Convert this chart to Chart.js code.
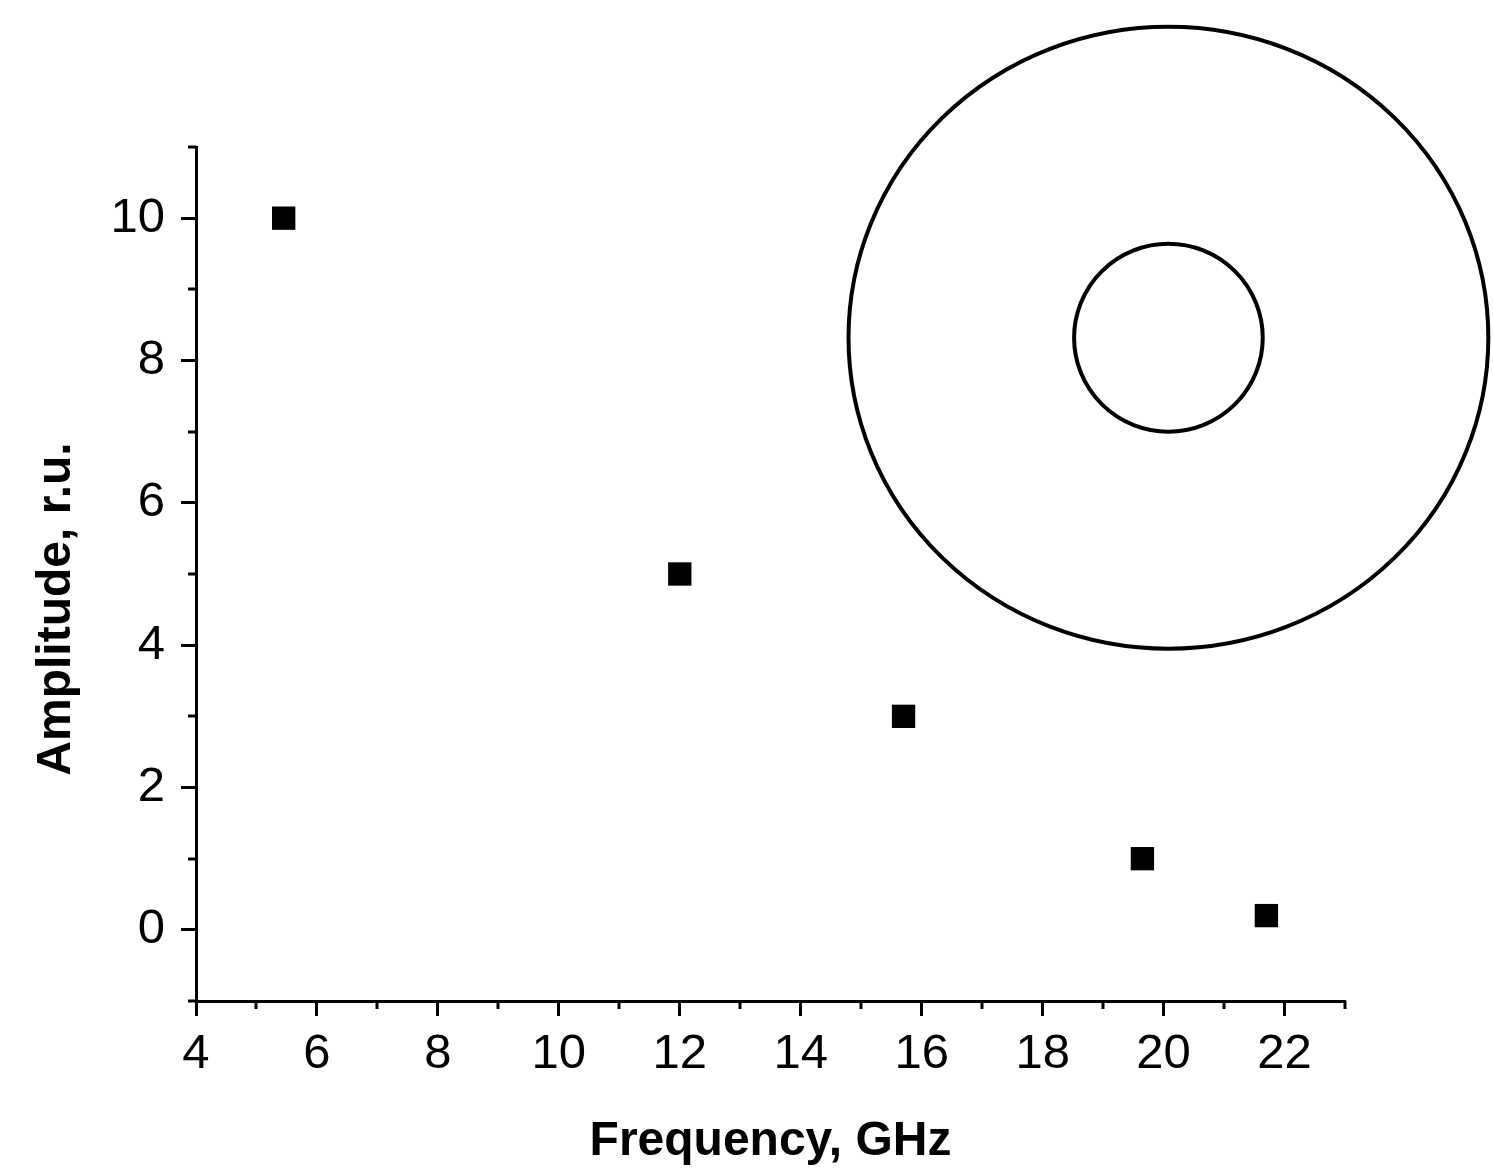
<!DOCTYPE html>
<html>
<head>
<meta charset="utf-8">
<script src="https://cdn.jsdelivr.net/npm/chart.js@4/dist/chart.umd.min.js"></script>
<style>
  html, body { margin: 0; padding: 0; background: #fff; }
  #wrap { width: 1493px; height: 1171px; }
</style>
</head>
<body>
<div id="wrap"><canvas id="chart"></canvas></div>
<script>
// ── Data ──────────────────────────────────────────────
const frequency = [5.45, 12.0, 15.7, 19.65, 21.7];   // GHz
const amplitude = [10.0, 5.0, 3.0, 1.0, 0.2];        // r.u.

const xMajor = [4, 6, 8, 10, 12, 14, 16, 18, 20, 22];
const xMinor = [5, 7, 9, 11, 13, 15, 17, 19, 21, 23];
const yMajor = [0, 2, 4, 6, 8, 10];
const yMinor = [-1, 1, 3, 5, 7, 9, 11];

const yTitle = 'Amplitude, r.u.';

// inset sketch: two rings, centre and radii in axis units
const ringCenter = [20.08, 8.32];
const ringRadiiX = [5.29, 1.56];
const ringRadiiY = [4.37, 1.32];

const FONT = "'Liberation Sans', Arial, Helvetica, sans-serif";

// ── Minor ticks, rings, y title ───────────────────────
const extras = {
    id: 'extras',
    afterDraw(chart) {
        const { ctx, scales: { x, y }, chartArea } = chart;
        ctx.save();
        ctx.strokeStyle = '#000';
        ctx.lineWidth = 3;
        ctx.lineCap = 'butt';
        ctx.beginPath();
        xMinor.forEach(v => {
            const px = Math.round(x.getPixelForValue(v));
            ctx.moveTo(px, chartArea.bottom);
            ctx.lineTo(px, chartArea.bottom + 8);
        });
        yMinor.forEach(v => {
            const py = Math.round(y.getPixelForValue(v));
            ctx.moveTo(chartArea.left, py);
            ctx.lineTo(chartArea.left - 8, py);
        });
        ctx.stroke();

        const cx = x.getPixelForValue(ringCenter[0]);
        const cy = y.getPixelForValue(ringCenter[1]);
        ctx.lineWidth = 4;
        ringRadiiX.forEach((rx, i) => {
            const rpx = Math.abs(x.getPixelForValue(ringCenter[0] + rx) - cx);
            const rpy = Math.abs(y.getPixelForValue(ringCenter[1] + ringRadiiY[i]) - cy);
            ctx.beginPath();
            ctx.ellipse(cx, cy, rpx, rpy, 0, 0, Math.PI * 2);
            ctx.stroke();
        });

        // y title sits a bit below the axis centre in the original
        ctx.translate(57, (chartArea.top + chartArea.bottom) / 2 + 35);
        ctx.rotate(-Math.PI / 2);
        ctx.font = `bold 48px ${FONT}`;
        ctx.fillStyle = '#000';
        ctx.textAlign = 'center';
        ctx.textBaseline = 'middle';
        ctx.fillText(yTitle, 0, 0);
        ctx.restore();
    }
};

Chart.defaults.font.family = FONT;
Chart.defaults.color = '#000';

new Chart(document.getElementById('chart'), {
    type: 'scatter',
    data: {
        datasets: [{
            data: frequency.map((f, i) => ({ x: f, y: amplitude[i] })),
            pointStyle: 'rect',
            pointRadius: 16.5,
            pointHoverRadius: 16.5,
            backgroundColor: '#000',
            borderColor: '#000',
            borderWidth: 0
        }]
    },
    options: {
        responsive: true,
        maintainAspectRatio: false,
        animation: false,
        layout: { padding: { top: 147, right: 148, left: 0, bottom: 0 } },
        plugins: {
            legend: { display: false },
            tooltip: { enabled: false }
        },
        scales: {
            x: {
                type: 'linear',
                min: 4,
                max: 23,
                afterBuildTicks: s => { s.ticks = xMajor.map(v => ({ value: v })); },
                afterFit: s => { s.height = 170; },
                border: { display: true, color: '#000', width: 3 },
                grid: {
                    drawOnChartArea: false,
                    drawTicks: true,
                    tickLength: 15,
                    tickWidth: 3,
                    tickColor: '#000'
                },
                ticks: {
                    font: { size: 49 },
                    padding: 9,
                    maxRotation: 0,
                    autoSkip: false
                },
                title: {
                    display: true,
                    text: 'Frequency, GHz',
                    font: { size: 48, weight: 'bold' },
                    padding: { top: 20, bottom: 0 }
                }
            },
            y: {
                type: 'linear',
                min: -1,
                max: 11,
                afterBuildTicks: s => { s.ticks = yMajor.map(v => ({ value: v })); },
                afterFit: s => { s.width = 196; },
                border: { display: true, color: '#000', width: 3 },
                grid: {
                    drawOnChartArea: false,
                    drawTicks: true,
                    tickLength: 15,
                    tickWidth: 3,
                    tickColor: '#000'
                },
                ticks: {
                    font: { size: 49 },
                    padding: 16
                },
                title: { display: false }
            }
        }
    },
    plugins: [extras]
});
</script>
</body>
</html>
